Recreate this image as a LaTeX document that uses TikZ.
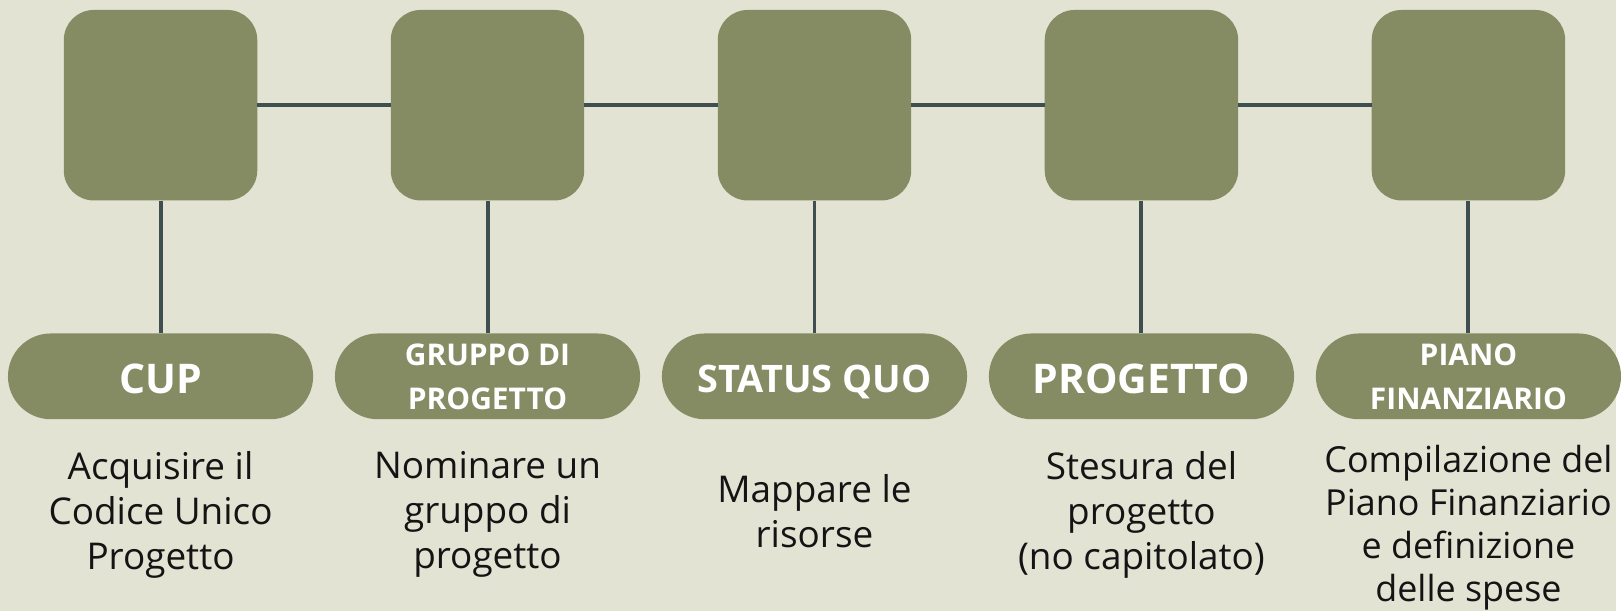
\documentclass[tikz,border=0pt]{standalone}
\usepackage{fontspec}
\setmainfont{Open Sans}
\usetikzlibrary{positioning}
\definecolor{sfondo}{HTML}{E2E3D3}
\definecolor{oliva}{HTML}{858C63}
\definecolor{linea}{HTML}{3E4E51}
\definecolor{testo}{HTML}{141414}

\begin{document}
\begin{tikzpicture}[x=1pt,y=1pt,
    quadro/.style={fill=oliva, rounded corners=30pt, minimum width=194pt,
      minimum height=191pt, inner sep=0pt},
    pillola/.style={fill=oliva, rounded corners=42.9pt, minimum width=306pt,
      minimum height=86pt, inner sep=0pt, text=white, align=center, text depth=0pt,
      execute at begin node={\rule{0pt}{0.85em}}},
    descr/.style={text=testo, align=center, inner sep=0pt,
      font=\fontsize{37}{45}\selectfont},
    filo/.style={draw=linea, line width=4pt}]
  % gap between the squares and from square to label
  \pgfmathsetmacro{\passo}{133.5}
  \pgfmathsetmacro{\giu}{133}

  % background, also fixes the page size
  \fill[sfondo] (0,0) rectangle (1621,-613);

  % row of squares
  \node[quadro] (q1) at (161,-105.5) {};
  \node[quadro, right=\passo pt of q1] (q2) {};
  \node[quadro, right=\passo pt of q2] (q3) {};
  \node[quadro, right=\passo pt of q3] (q4) {};
  \node[quadro, right=\passo pt of q4] (q5) {};

  % labels
  \node[pillola, below=\giu pt of q1, font=\fontsize{41}{49}\selectfont\bfseries] (p1) {CUP};
  \node[pillola, below=\giu pt of q2, font=\fontsize{30}{44}\selectfont\bfseries] (p2) {GRUPPO DI\\PROGETTO};
  \node[pillola, below=\giu pt of q3, font=\fontsize{38}{46}\selectfont\bfseries] (p3) {STATUS QUO};
  \node[pillola, below=\giu pt of q4, font=\fontsize{41}{49}\selectfont\bfseries] (p4) {PROGETTO};
  \node[pillola, below=\giu pt of q5, font=\fontsize{30}{44}\selectfont\bfseries] (p5) {PIANO\\FINANZIARIO};

  % descriptions
  \node[descr, below=32pt of p1] (d1) {Acquisire il\\Codice Unico\\Progetto};
  \node[descr, below=32pt of p2] (d2) {Nominare un\\gruppo di\\progetto};
  \node[descr, below=55pt of p3] (d3) {Mappare le\\risorse};
  \node[descr, below=32pt of p4] (d4) {Stesura del\\progetto\\(no capitolato)};
  \node[descr, below=26pt of p5, font=\fontsize{36}{43}\selectfont] (d5)
    {Compilazione del\\Piano Finanziario\\e definizione\\delle spese};

  % connectors
  \draw[filo] (q1.east) -- (q2.west);
  \draw[filo] (q2.east) -- (q3.west);
  \draw[filo] (q3.east) -- (q4.west);
  \draw[filo] (q4.east) -- (q5.west);
  \draw[filo] (q1.south) -- (p1.north);
  \draw[filo] (q2.south) -- (p2.north);
  \draw[filo] (q3.south) -- (p3.north);
  \draw[filo] (q4.south) -- (p4.north);
  \draw[filo] (q5.south) -- (p5.north);
\end{tikzpicture}
\end{document}
